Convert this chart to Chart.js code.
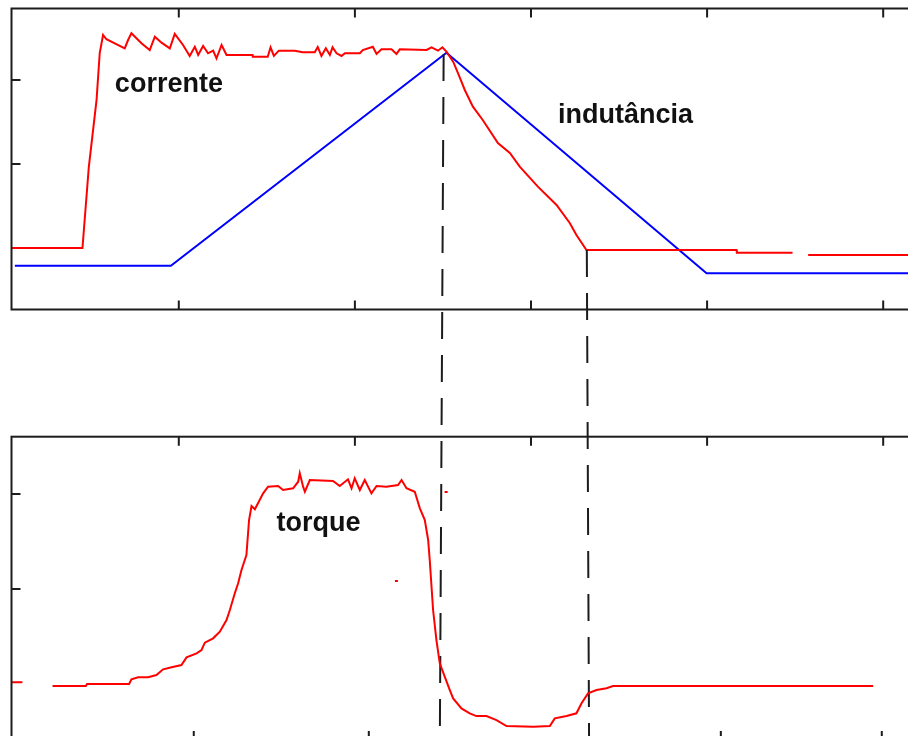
<!DOCTYPE html>
<html lang="pt">
<head>
<meta charset="utf-8">
<title>Corrente, indutância e torque</title>
<script src="https://cdn.jsdelivr.net/npm/chart.js@4.4.1/dist/chart.umd.min.js"></script>
<style>
  html, body { margin: 0; padding: 0; background: #fff; overflow: hidden; }
  #stage { position: relative; width: 908px; height: 736px; overflow: hidden; }
  #stage canvas { position: absolute; left: 0; top: 0; }
</style>
</head>
<body>
<div id="stage">
  <canvas id="phaseChart" width="932" height="750"></canvas>
  <canvas id="torqueChart" width="932" height="750"></canvas>
</div>
<script>
// Shared time axis
const timeMin = 0.5;
const timeMax = 52.09;
const timeTicks = [10, 20, 30, 40, 50];
const torqueBottomTicks = [10.85, 20.79, 40.78, 49.92];

// Phase current (red, upper panel)
const currentT = [0.5, 4.53, 4.89, 5.33, 5.51, 5.70, 5.89, 6.93, 7.12, 7.31, 7.88, 8.35, 8.64, 9.02, 9.49, 9.77,
  10.24, 10.62, 10.91, 11.10, 11.38, 11.66, 11.95, 12.14, 12.43, 12.71, 14.19, 14.20, 15.05, 15.21, 15.40, 15.68,
  16.59, 17.04, 17.72, 17.89, 18.10, 18.35, 18.58, 18.73, 18.96, 19.24, 19.43, 20.28, 20.45, 21.02, 21.23, 21.51,
  22.08, 22.36, 22.55, 24.07, 24.35, 24.72, 24.97, 25.20,
  25.58, 25.86, 26.05, 26.24, 26.70, 27.26, 28.12, 28.80, 29.36, 30.39, 31.45, 32.20, 32.58, 33.15,
  41.67, 41.69, 44.85, 45.3, 45.74, 52.09];
const currentA = [10, 10, 19.64, 27.62, 33.21, 35.36, 34.85, 33.77, 34.76, 35.56, 34.37, 33.57, 35.15, 34.44, 33.77, 35.48,
  34.17, 32.86, 33.96, 32.98, 34.05, 33.18, 33.49, 32.58, 34.17, 32.98, 32.98, 32.77, 32.77, 33.89, 32.86, 33.49,
  33.49, 33.30, 33.30, 33.93, 32.86, 33.77, 32.98, 33.89, 33.18, 32.86, 33.18, 33.18, 33.57, 33.96, 33.10, 33.65,
  33.65, 33.10, 33.65, 33.57, 33.89, 33.49, 33.89, 33.37,
  32.18, 30.80, 29.80, 28.81, 26.82, 25.24, 22.50, 21.31, 19.68, 17.30, 15.12, 12.98, 11.55, 9.76,
  9.76, 9.44, 9.44, null, 9.17, 9.17];

// Phase inductance (blue, upper panel)
const inductT = [0.69, 9.55, 25.20, 39.97, 52.09];
const inductL = [7.89, 7.89, 33.25, 6.99, 6.99];

// Torque (red, lower panel)
const torqueT = [0.5, 1.12, 2.0, 2.83, 4.72, 4.79, 7.18, 7.31, 7.69, 8.26, 8.73, 9.11, 9.59, 10.15, 10.44, 11.01,
  11.29, 11.48, 11.95, 12.33, 12.71, 12.90, 13.18, 13.37, 13.56, 13.84, 13.99, 14.13, 14.32, 14.79, 15.07, 15.64,
  15.92, 16.49, 16.78, 16.87, 17.06, 17.16, 17.44, 18.76, 19.14, 19.61, 19.81, 19.99, 20.28, 20.56, 20.94, 21.23,
  21.79, 22.45, 22.65, 22.93, 23.40, 23.69, 23.97, 24.16, 24.25, 24.44, 24.63, 24.82, 25.10, 25.39, 25.58, 26.05,
  26.52, 26.90, 27.47, 28.04, 28.61, 30.12, 31.07, 31.35, 32.02, 32.58, 32.87, 33.24, 33.72, 34.29, 34.66, 49.43];
const torqueN = [0.18, 0.18, null, -0.21, -0.21, 0, 0, 0.49, 0.71, 0.71, 0.95, 1.55, 1.76, 2.0, 2.81, 3.23,
  3.58, 4.35, 4.81, 5.51, 6.74, 7.79, 9.55, 10.6, 12.0, 13.58, 17.26, 18.74, 18.39, 20.07, 20.77, 20.84,
  20.42, 20.6, 21.29, 22.18, 20.77, 20.24, 21.47, 21.37, 20.84, 21.55, 20.6, 21.65, 20.42, 21.47, 20.07, 20.84,
  20.77, 20.95, 21.47, 20.6, 20.24, 18.49, 17.26, 15.16, 13.05, 7.79, 4.63, 2.18, 0.77, -0.63, -1.51, -2.56,
  -3.08, -3.37, -3.37, -3.79, -4.42, -4.49, -4.42, -3.61, -3.37, -3.08, -2.03, -0.98, -0.63, -0.45, -0.21, -0.21];

// Isolated torque samples
const strayT = [25.18, 22.36];
const strayN = [20.21, 10.84];

// Dashed guides: start on the upper curves, run down through the torque panel
const guideX = [25.04, 33.17];
const guideFromY = [33.10, 9.76];
const guideToX = [24.82, 33.30];

// Curve names
const tags = [
  { chart: 'phase', text: 'corrente', x: 6.37, y: 28.61 },
  { chart: 'phase', text: 'indutância', x: 31.54, y: 24.85 },
  { chart: 'torque', text: 'torque', x: 15.55, y: 16.1 }
];

const INK = '#1c1c1c';

function points(xs, ys) {
  return xs.map((x, i) => ({ x: x, y: ys[i] }));
}

// Box around the plot area, with tick marks pointing inwards
function framePlugin(cfg) {
  return {
    id: 'frame',
    afterDraw(chart) {
      const { ctx, chartArea: a, scales: { x, y } } = chart;
      ctx.save();
      ctx.strokeStyle = INK;
      ctx.lineWidth = 2;
      ctx.setLineDash([]);
      ctx.strokeRect(a.left, a.top, a.right - a.left, a.bottom - a.top);
      ctx.beginPath();
      cfg.topTicks.forEach(v => {
        const px = x.getPixelForValue(v);
        ctx.moveTo(px, a.top);
        ctx.lineTo(px, a.top + 9);
      });
      cfg.bottomTicks.forEach(v => {
        const px = x.getPixelForValue(v);
        ctx.moveTo(px, a.bottom);
        ctx.lineTo(px, a.bottom - 9);
      });
      cfg.leftTicks.forEach(v => {
        const py = y.getPixelForValue(v);
        ctx.moveTo(a.left, py);
        ctx.lineTo(a.left + 9, py);
      });
      ctx.stroke();

      ctx.fillStyle = '#111';
      ctx.font = 'bold 27px "Liberation Sans", Arial, sans-serif';
      ctx.textBaseline = 'alphabetic';
      ctx.textAlign = 'left';
      tags.filter(t => t.chart === cfg.name).forEach(t => {
        ctx.fillText(t.text, x.getPixelForValue(t.x), y.getPixelForValue(t.y));
      });
      ctx.restore();
    }
  };
}

// Vertical dashed guides, drawn from the upper panel to the bottom of the page
const guidePlugin = {
  id: 'guides',
  afterDatasetsDraw(chart) {
    const { ctx, scales: { x, y } } = chart;
    ctx.save();
    ctx.strokeStyle = INK;
    ctx.lineWidth = 2;
    ctx.setLineDash([27, 16]);
    guideX.forEach((gx, i) => {
      ctx.beginPath();
      ctx.moveTo(x.getPixelForValue(gx), y.getPixelForValue(guideFromY[i]));
      ctx.lineTo(x.getPixelForValue(guideToX[i]), chart.height);
      ctx.stroke();
    });
    ctx.restore();
  }
};

function baseOptions(padding, yMin, yMax) {
  return {
    responsive: false,
    animation: false,
    events: [],
    layout: { padding: padding },
    plugins: { legend: { display: false }, tooltip: { enabled: false } },
    elements: { point: { radius: 0 }, line: { tension: 0 } },
    scales: {
      x: { type: 'linear', min: timeMin, max: timeMax, display: false },
      y: { type: 'linear', min: yMin, max: yMax, display: false }
    }
  };
}

new Chart(document.getElementById('phaseChart'), {
  type: 'line',
  data: {
    datasets: [
      { label: 'corrente', data: points(currentT, currentA), borderColor: '#ff0000', borderWidth: 2, spanGaps: false },
      { label: 'indutância', data: points(inductT, inductL), borderColor: '#0000ff', borderWidth: 2 }
    ]
  },
  options: baseOptions({ left: 11.5, top: 8.5, right: 12, bottom: 440.5 }, 2.68, 38.51),
  plugins: [guidePlugin, framePlugin({ name: 'phase', topTicks: timeTicks, bottomTicks: timeTicks, leftTicks: [20, 30] })]
});

new Chart(document.getElementById('torqueChart'), {
  type: 'line',
  data: {
    datasets: [
      { label: 'torque', data: points(torqueT, torqueN), borderColor: '#ff0000', borderWidth: 2, spanGaps: false },
      {
        label: 'amostras', data: points(strayT, strayN), showLine: false,
        pointStyle: 'line', pointRadius: 1.5, borderColor: '#ff0000', borderWidth: 2
      }
    ]
  },
  options: baseOptions({ left: 11.5, top: 436.7, right: 12, bottom: 10 }, -5.89, 26.03),
  plugins: [framePlugin({ name: 'torque', topTicks: timeTicks, bottomTicks: torqueBottomTicks, leftTicks: [10, 20] })]
});
</script>
</body>
</html>
